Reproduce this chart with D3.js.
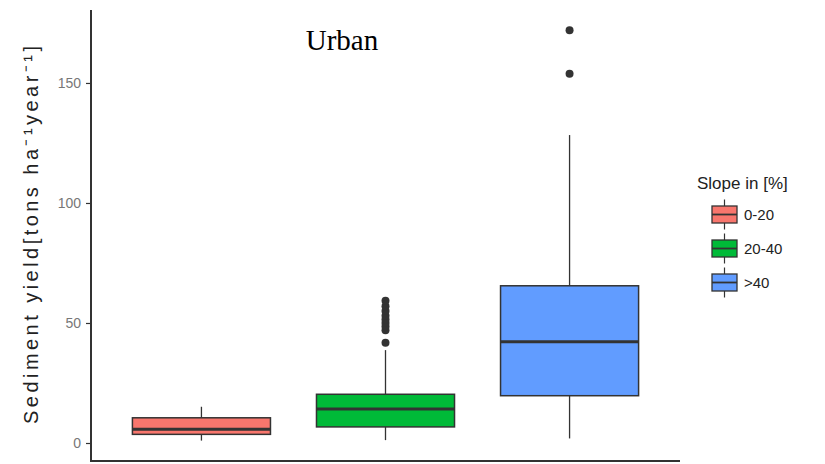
<!DOCTYPE html>
<html><head><meta charset="utf-8">
<script src="https://cdn.jsdelivr.net/npm/d3@7"></script>
<style>body{margin:0;background:#fff}</style>
</head><body><svg id="c" width="825" height="464"></svg>
<script>
const categories = ["0-20", "20-40", ">40"];
const colors = ["#F8766D", "#00BA38", "#619CFF"];
const whiskerLow = [1.0, 1.2, 1.9];
const q1 = [3.6, 6.7, 19.7];
const median = [5.7, 14.2, 42.2];
const q3 = [10.5, 20.3, 65.5];
const whiskerHigh = [15.1, 38.7, 128.3];
const outliers = [[], [41.8, 47, 48.5, 50, 51.5, 53, 55, 57, 59.3], [153.8, 172]];
const yTicks = [0, 50, 100, 150];

const svg = d3.select("#c");
const xc = d3.scalePoint().domain(categories).range([91, 680]).padding(0.6);
const bw = 0.75 * xc.step();
const y = d3.scaleLinear().domain([-7.5, 180.4]).range([461, 10]);

const dark = "#333333";
categories.forEach((c, i) => {
  const cx = xc(c);
  const g = svg.append("g");
  g.append("line").attr("x1", cx).attr("x2", cx).attr("y1", y(whiskerLow[i])).attr("y2", y(q1[i])).attr("stroke", dark).attr("stroke-width", 1.3);
  g.append("line").attr("x1", cx).attr("x2", cx).attr("y1", y(q3[i])).attr("y2", y(whiskerHigh[i])).attr("stroke", dark).attr("stroke-width", 1.3);
  g.append("rect").attr("x", cx - bw / 2).attr("width", bw).attr("y", y(q3[i])).attr("height", y(q1[i]) - y(q3[i]))
    .attr("fill", colors[i]).attr("stroke", dark).attr("stroke-width", 1.5);
  g.append("line").attr("x1", cx - bw / 2).attr("x2", cx + bw / 2).attr("y1", y(median[i])).attr("y2", y(median[i])).attr("stroke", dark).attr("stroke-width", 3);
  g.selectAll("circle").data(outliers[i]).enter().append("circle").attr("cx", cx).attr("cy", d => y(d)).attr("r", 4).attr("fill", dark);
});

// Y axis
const yAxis = d3.axisLeft(y).tickValues(yTicks).tickSize(5).tickPadding(5);
const ya = svg.append("g").attr("transform", "translate(91,0)").call(yAxis);
ya.select(".domain").remove();
ya.selectAll(".tick line").attr("stroke", dark).attr("stroke-width", 1.2);
ya.selectAll(".tick text").attr("fill", "#777").style("font-family", "Liberation Sans, Arial, sans-serif").style("font-size", "14px");
svg.append("line").attr("x1", 91).attr("x2", 91).attr("y1", 10).attr("y2", 462).attr("stroke", dark).attr("stroke-width", 2);
svg.append("line").attr("x1", 90).attr("x2", 680).attr("y1", 461).attr("y2", 461).attr("stroke", dark).attr("stroke-width", 2);

// Axis title
svg.append("text").attr("transform", "translate(38,235) rotate(-90)").attr("text-anchor", "middle")
  .attr("textLength", 378).attr("lengthAdjust", "spacing")
  .style("font-family", "Liberation Sans, Arial, sans-serif").style("font-size", "20px").attr("fill", "#222")
  .text("Sediment yield[tons ha\u207B\u00B9year\u207B\u00B9]");

// Title
svg.append("text").attr("x", 342).attr("y", 50).attr("text-anchor", "middle")
  .style("font-family", "Liberation Serif, Times New Roman, serif").style("font-size", "29px").attr("fill", "#000").text("Urban");

// Legend
const lg = svg.append("g");
lg.append("text").attr("x", 697).attr("y", 189).style("font-family", "Liberation Sans, Arial, sans-serif").style("font-size", "17px").attr("fill", "#222").text("Slope in [%]");
categories.forEach((c, i) => {
  const cy = 214.5 + i * 34;
  const kx = 724.5;
  lg.append("line").attr("x1", kx).attr("x2", kx).attr("y1", cy - 15).attr("y2", cy + 15).attr("stroke", dark).attr("stroke-width", 1.2);
  lg.append("rect").attr("x", kx - 12.5).attr("y", cy - 8.5).attr("width", 25).attr("height", 17).attr("fill", colors[i]).attr("stroke", dark).attr("stroke-width", 1.3);
  lg.append("line").attr("x1", kx - 12.5).attr("x2", kx + 12.5).attr("y1", cy).attr("y2", cy).attr("stroke", dark).attr("stroke-width", 1.8);
  lg.append("text").attr("x", 744).attr("y", cy + 5.5).style("font-family", "Liberation Sans, Arial, sans-serif").style("font-size", "15px").attr("fill", "#222").text(c);
});
</script></body></html>
